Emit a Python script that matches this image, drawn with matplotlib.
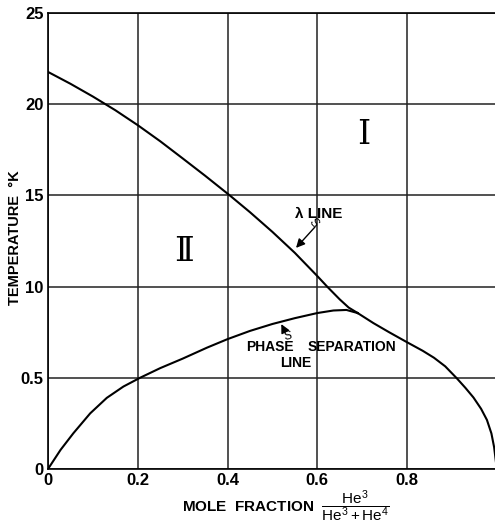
import matplotlib
matplotlib.use("Agg")
import matplotlib.pyplot as plt

plt.rcParams["font.family"] = ["Liberation Sans Narrow", "Liberation Sans", "DejaVu Sans"]
plt.rcParams["mathtext.fontset"] = "custom"
plt.rcParams["mathtext.rm"] = "Liberation Sans"
plt.rcParams["mathtext.it"] = "Liberation Sans"

# lambda line, from pure He4 down to the junction with the phase separation curve
lambda_x = [0.0, 0.05, 0.1, 0.15, 0.2, 0.25, 0.3, 0.35, 0.405, 0.45, 0.5,
            0.55, 0.6, 0.622, 0.65, 0.67, 0.69]
lambda_T = [2.177, 2.112, 2.042, 1.967, 1.885, 1.797, 1.703, 1.608, 1.50, 1.408, 1.30,
            1.185, 1.058, 1.0, 0.93, 0.885, 0.855]

# phase separation line, He4-rich side
phase_x = [0.0, 0.028, 0.0565, 0.094, 0.131, 0.168, 0.205, 0.25, 0.3, 0.354, 0.4, 0.45,
           0.5, 0.55, 0.6, 0.636, 0.665, 0.69]
phase_T = [0.0, 0.105, 0.196, 0.305, 0.39, 0.452, 0.5, 0.553, 0.605, 0.665, 0.712, 0.757,
           0.795, 0.827, 0.855, 0.869, 0.872, 0.855]

# phase separation line, He3-rich side
right_x = [0.69, 0.725, 0.76, 0.8, 0.835, 0.86, 0.885, 0.911, 0.93, 0.948, 0.965, 0.978,
           0.988, 0.994, 0.998]
right_T = [0.855, 0.80, 0.75, 0.695, 0.648, 0.61, 0.563, 0.497, 0.445, 0.392, 0.33, 0.269,
           0.195, 0.12, 0.04]

x_ticks = [0.0, 0.2, 0.4, 0.6, 0.8]
x_labels = ["0", "0.2", "0.4", "0.6", "0.8"]
y_ticks = [0.0, 0.5, 1.0, 1.5, 2.0, 2.5]
y_labels = ["0", "0.5", "10", "15", "20", "25"]

fig = plt.figure(figsize=(4.95, 5.31), dpi=100)
ax = fig.add_axes([48 / 495, 1 - 469 / 531, 447 / 495, 456 / 531])

for xs, ts in [(lambda_x, lambda_T), (phase_x, phase_T), (right_x, right_T)]:
    ax.plot(xs, ts, color="black", lw=1.5, solid_joinstyle="round")

ax.set_xlim(0, 0.996)
ax.set_ylim(0, 2.5)
ax.set_xticks(x_ticks)
ax.set_xticklabels(x_labels)
ax.set_yticks(y_ticks)
ax.set_yticklabels(y_labels)
ax.tick_params(length=0, pad=3, labelsize=12)
for lab in ax.get_xticklabels() + ax.get_yticklabels():
    lab.set_fontweight("bold")

ax.grid(True, color="#222222", lw=1.1)
ax.set_axisbelow(True)
for side in ["left", "bottom", "top"]:
    ax.spines[side].set_linewidth(1.2)
ax.spines["right"].set_visible(False)

fig.text(15 / 495, 1 - 238 / 531, "TEMPERATURE  °K", rotation=90, fontsize=10.5,
         fontweight="bold", ha="center", va="center")
ax.text(0.533, -0.081,
        r"MOLE  FRACTION  $\dfrac{\mathrm{He}^3}{\mathrm{He}^3+\mathrm{He}^4}$",
        transform=ax.transAxes, ha="center", va="center", fontsize=11,
        fontweight="bold")

# region numerals
ax.text(0.703, 1.83, "Ⅰ", family="DejaVu Serif", fontsize=24, ha="center", va="center")
ax.text(0.303, 1.19, "Ⅱ", family="DejaVu Serif", fontsize=24, ha="center", va="center")

# curve labels with pointer arrows
ax.text(0.603, 1.40, "λ LINE", fontsize=11, fontweight="bold", ha="center", va="center")
ax.annotate("", xy=(0.5485, 1.201), xytext=(0.599, 1.338),
            arrowprops=dict(arrowstyle="-|>", color="black", lw=1.0, mutation_scale=13))
ax.text(0.592, 1.35, "S", fontsize=8.5, rotation=-50, ha="center", va="center")

ax.text(0.495, 0.667, "PHASE", fontsize=10, fontweight="bold", ha="center", va="center")
ax.text(0.677, 0.667, "SEPARATION", fontsize=10, fontweight="bold", ha="center", va="center")
ax.text(0.553, 0.580, "LINE", fontsize=10, fontweight="bold", ha="center", va="center")
ax.annotate("", xy=(0.517, 0.808), xytext=(0.530, 0.745),
            arrowprops=dict(arrowstyle="-|>", color="black", lw=1.0, mutation_scale=13))
ax.text(0.535, 0.727, "S", fontsize=8.5, rotation=10, ha="center", va="center")

fig.savefig("out.png", dpi=100)
